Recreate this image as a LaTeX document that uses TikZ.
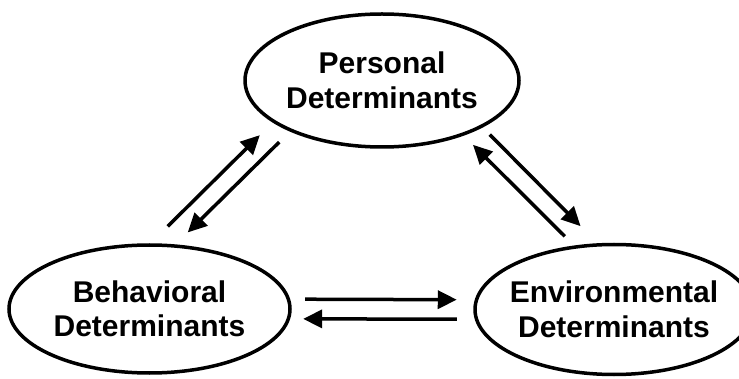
\documentclass[tikz,border=0pt]{standalone}
\usepackage{fontspec}
\setmainfont{Liberation Sans}
\usetikzlibrary{arrows.meta}
\usetikzlibrary{shapes}
\tikzset{
        detnode/.style={align=center,inner xsep=-20pt,inner ysep=0pt,font=\bfseries\fontsize{30}{34.5}\selectfont},
        % Determinant ellipses
        node_det/.style={detnode, ellipse, black, draw=black, line width=3.5pt},
        % Influence arrows
        edge_flow/.style={-{Triangle[length=19pt,width=18pt]}, line width=3.5pt}
}

\begin{document}
\begin{tikzpicture}[x=1pt, y=-1pt]
            \useasboundingbox (0,0) rectangle (739,379);
            \node[node_det, minimum width=274pt, minimum height=133pt] (personal) at (382,80.5) {Personal\\Determinants};
            \node[node_det, minimum width=281pt, minimum height=128pt] (behavioral) at (149.5,309) {Behavioral\\Determinants};
            \node[node_det, minimum width=278pt, minimum height=130pt] (environmental) at (614,309.5) {Environmental\\Determinants};

            % behavioral <-> personal
            \draw[edge_flow, shorten <=24pt, shorten >=18pt] (behavioral.89) -- (personal.201);
            \draw[edge_flow, shorten <=15pt, shorten >=17pt] (personal.209) -- (behavioral.68);
            % personal <-> environmental
            \draw[edge_flow, shorten <=10pt, shorten >=24pt] (personal.335) -- (environmental.104);
            \draw[edge_flow, shorten <=13pt, shorten >=13pt] (environmental.122) -- (personal.326);
            % behavioral <-> environmental
            \draw[edge_flow, shorten <=15pt, shorten >=18pt] (behavioral.4) -- (environmental.176);
            \draw[edge_flow, shorten <=18pt, shorten >=13pt] (environmental.184) -- (behavioral.356);
\end{tikzpicture}
\end{document}
